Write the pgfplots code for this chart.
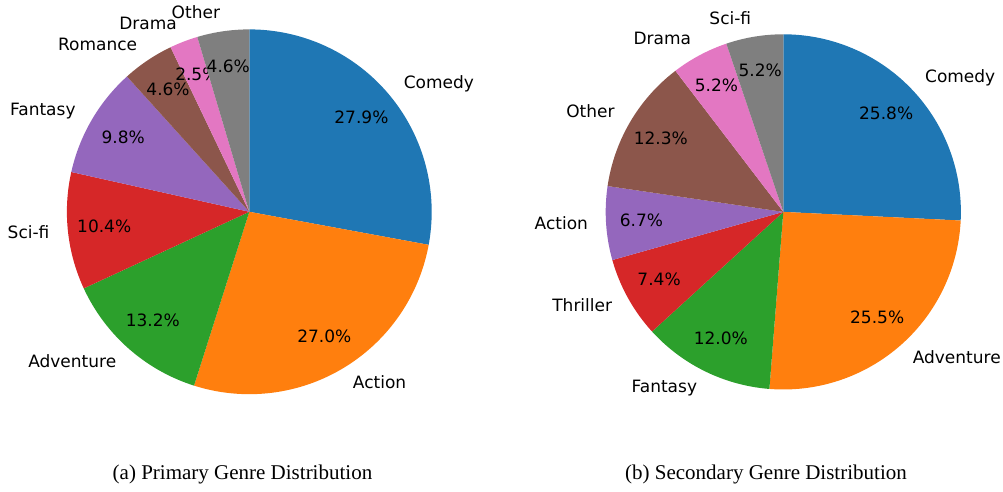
\documentclass[border=0pt]{standalone}
\usepackage{pgfplots}
\pgfplotsset{compat=1.18}
\usepackage{fontspec}
\setmainfont{Liberation Serif}
\newfontfamily\dejavu{DejaVu Sans}

\definecolor{c0}{HTML}{1F77B4}
\definecolor{c1}{HTML}{FF7F0E}
\definecolor{c2}{HTML}{2CA02C}
\definecolor{c3}{HTML}{D62728}
\definecolor{c4}{HTML}{9467BD}
\definecolor{c5}{HTML}{8C564B}
\definecolor{c6}{HTML}{E377C2}
\definecolor{c7}{HTML}{7F7F7F}

\newcommand\lbl{\dejavu\fontsize{8.5}{10}\selectfont}

% one wedge: cx, cy, r, start (%), value (%), total, colour, name
\newcommand\slice[8]{%
  \pgfmathsetmacro\angA{90-360*(#4/#6)}%
  \pgfmathsetmacro\angB{90-360*((#4+#5)/#6)}%
  \pgfmathsetmacro\angM{(\angA+\angB)/2}%
  \addplot[fill=#7, draw=none, mark=none, domain=\angB:\angA, samples=80]
    ({#1+#3*cos(x)},{#2+#3*sin(x)}) -- (axis cs:#1,#2) -- cycle;
  \pgfmathsetmacro\px{#1+0.8*#3*cos(\angM)}%
  \pgfmathsetmacro\py{#2+0.8*#3*sin(\angM)}%
  \pgfmathsetmacro\lx{#1+1.1*#3*cos(\angM)}%
  \pgfmathsetmacro\ly{#2+1.1*#3*sin(\angM)}%
  \pgfmathsetmacro\cm{cos(\angM)}%
  \ifdim\cm pt>0pt \def\anch{west}\else\def\anch{east}\fi
  \edef\tmp{%
    \noexpand\node[font=\noexpand\lbl, inner sep=0pt, text height=0.74em, text depth=0.23em, anchor=\anch] at (axis cs:\lx,\ly) {#8};
    \noexpand\node[font=\noexpand\lbl, inner sep=0pt, text height=0.74em, text depth=0.23em] at (axis cs:\px,\py) {#5\noexpand\%};
  }\tmp
}

\begin{document}
\begin{tikzpicture}
\begin{axis}[
    width=501.5pt, height=243pt, scale only axis,
    xmin=0, xmax=1003, ymin=0, ymax=486,
    hide axis, clip=false
]
% (a) primary genres
\slice{249.3}{274.2}{182.4}{0}{27.9}{100}{c0}{Comedy}
\slice{249.3}{274.2}{182.4}{27.9}{27.0}{100}{c1}{Action}
\slice{249.3}{274.2}{182.4}{54.9}{13.2}{100}{c2}{Adventure}
\slice{249.3}{274.2}{182.4}{68.1}{10.4}{100}{c3}{Sci-fi}
\slice{249.3}{274.2}{182.4}{78.5}{9.8}{100}{c4}{Fantasy}
\slice{249.3}{274.2}{182.4}{88.3}{4.6}{100}{c5}{Romance}
\slice{249.3}{274.2}{182.4}{92.9}{2.5}{100}{c6}{Drama}
\slice{249.3}{274.2}{182.4}{95.4}{4.6}{100}{c7}{Other}
% (b) secondary genres
\slice{783.3}{274.1}{177.6}{0}{25.8}{100.1}{c0}{Comedy}
\slice{783.3}{274.1}{177.6}{25.8}{25.5}{100.1}{c1}{Adventure}
\slice{783.3}{274.1}{177.6}{51.3}{12.0}{100.1}{c2}{Fantasy}
\slice{783.3}{274.1}{177.6}{63.3}{7.4}{100.1}{c3}{Thriller}
\slice{783.3}{274.1}{177.6}{70.7}{6.7}{100.1}{c4}{Action}
\slice{783.3}{274.1}{177.6}{77.4}{12.3}{100.1}{c5}{Other}
\slice{783.3}{274.1}{177.6}{89.7}{5.2}{100.1}{c6}{Drama}
\slice{783.3}{274.1}{177.6}{94.9}{5.2}{100.1}{c7}{Sci-fi}
\node[anchor=base, font=\fontsize{10.5}{12}\selectfont] at (axis cs:242.5,6) {(a) Primary Genre Distribution};
\node[anchor=base, font=\fontsize{10.5}{12}\selectfont] at (axis cs:766,6) {(b) Secondary Genre Distribution};
\end{axis}
\path (current axis.south west) rectangle (current axis.north east);
\end{tikzpicture}
\end{document}
